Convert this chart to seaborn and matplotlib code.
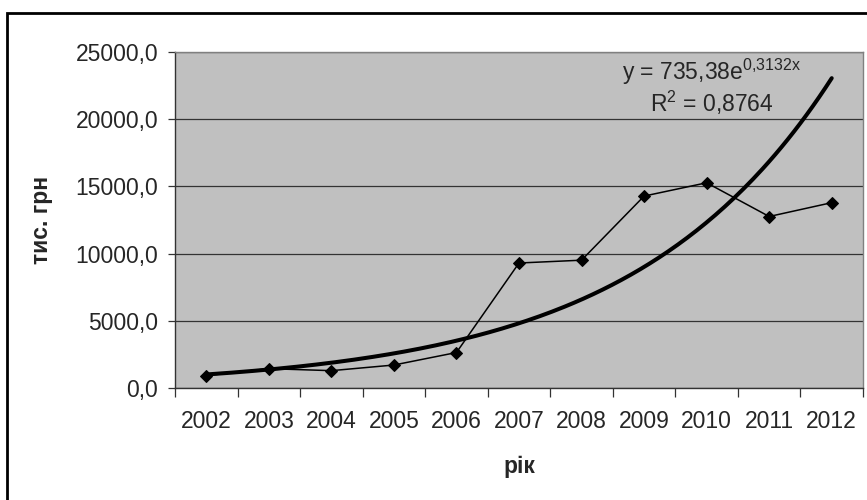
import numpy as np
import pandas as pd
import seaborn as sns
import matplotlib
matplotlib.use('Agg')
import matplotlib.pyplot as plt
from matplotlib.patches import Rectangle
from matplotlib.ticker import FuncFormatter, FixedLocator

# values (тис. грн)
years = ['2002', '2003', '2004', '2005', '2006', '2007',
         '2008', '2009', '2010', '2011', '2012']
values = [920, 1440, 1290, 1710, 2640, 9300, 9510, 14280, 15270, 12760, 13790]

# exponential trend printed on the chart
trend_a = 735.38
trend_b = 0.3132
trend_label = 'y = 735,38e$^{\\mathrm{0{,}3132x}}$'
r2_label = 'R$^{\\mathrm{2}}$ = 0,8764'

sns.set_style('white')
plt.rcParams['font.family'] = ['Liberation Sans', 'DejaVu Sans']
plt.rcParams['mathtext.fontset'] = 'custom'
plt.rcParams['mathtext.rm'] = 'Liberation Sans'
plt.rcParams['mathtext.it'] = 'Liberation Sans'

fs = 16.5

df = pd.DataFrame({'pos': np.arange(len(years)), 'value': values})
tx = np.linspace(1, len(years), 200)
trend = pd.DataFrame({'pos': tx - 1, 'value': trend_a * np.exp(trend_b * tx)})

fig = plt.figure(figsize=(8.67, 5.0), dpi=100)
ax = fig.add_axes([175 / 867, 1 - 388 / 500, 688 / 867, 336 / 500])
ax.set_facecolor('#C0C0C0')

sns.lineplot(data=df, x='pos', y='value', ax=ax, color='black', lw=1.1,
             marker='D', markersize=6, markeredgecolor='black', zorder=3)
sns.lineplot(data=trend, x='pos', y='value', ax=ax, color='black', lw=2.9,
             zorder=4)

ax.set_xlim(-0.5, len(years) - 0.5)
ax.set_ylim(0, 25000)
ax.set_yticks(np.arange(0, 25001, 5000))
ax.yaxis.set_major_formatter(FuncFormatter(lambda v, p: f'{v:.1f}'.replace('.', ',')))
ax.grid(axis='y', color='#333333', lw=0.9)
ax.set_axisbelow(True)

# ticks between categories, labels in the middle
ax.xaxis.set_major_locator(FixedLocator(np.arange(-0.5, len(years), 1)))
ax.xaxis.set_major_formatter(FuncFormatter(lambda v, p: ''))
ax.xaxis.set_minor_locator(FixedLocator(np.arange(len(years))))
ax.set_xticklabels(years, minor=True)
ax.tick_params(axis='x', which='major', direction='out', length=6.5,
               width=0.9, color='#333333', bottom=True)
ax.tick_params(axis='x', which='minor', length=0, pad=16, labelsize=fs)
ax.tick_params(axis='y', direction='out', length=5, width=0.9,
               color='#333333', pad=7, labelsize=fs, left=True)

for s in ['left', 'bottom']:
    ax.spines[s].set_color('#333333')
    ax.spines[s].set_linewidth(1.0)
for s in ['top', 'right']:
    ax.spines[s].set_color('#808080')
    ax.spines[s].set_linewidth(1.0)

ax.set_xlabel('рік', fontsize=fs, fontweight='bold')
ax.set_ylabel('тис. грн', fontsize=fs, fontweight='bold')
ax.xaxis.set_label_coords(0.5, -0.2)
ax.yaxis.set_label_coords(-0.177, 0.5)

ax.text(0.78, 0.917, trend_label, transform=ax.transAxes, ha='center',
        va='baseline', fontsize=fs)
ax.text(0.78, 0.821, r2_label, transform=ax.transAxes, ha='center',
        va='baseline', fontsize=fs)

# outer chart frame, cut off on the right and bottom like the source
fig.add_artist(Rectangle((7 / 867, -0.1), 1.2, 1.1 - 13 / 500, fill=False,
                         lw=2, edgecolor='black', transform=fig.transFigure))

fig.savefig('out.png', dpi=100)
